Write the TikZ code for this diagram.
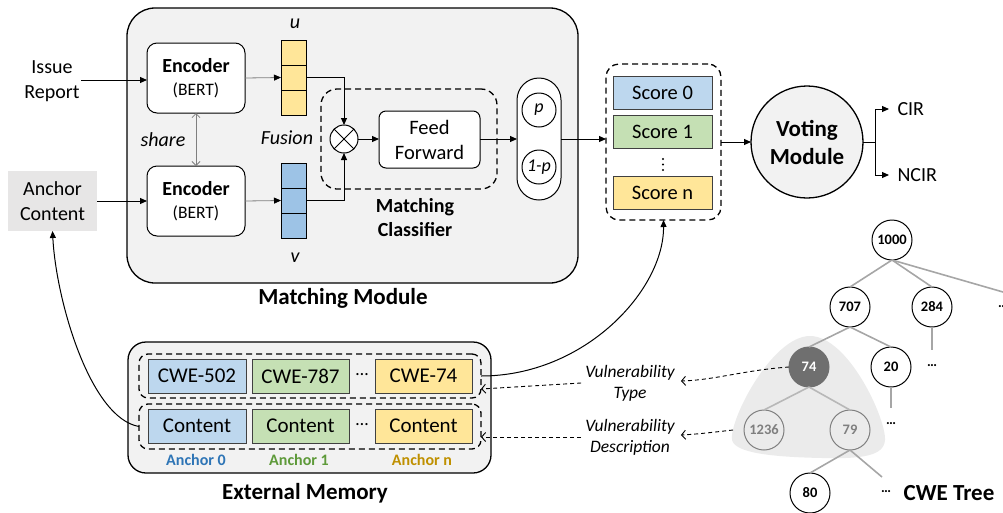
\documentclass[tikz,border=0pt]{standalone}
\usepackage{fontspec}
\setmainfont{Carlito}
\usetikzlibrary{arrows.meta,calc}
\definecolor{mgray}{HTML}{F2F2F2}
\definecolor{acgray}{HTML}{E7E6E6}
\definecolor{lblue}{HTML}{BDD7EE}
\definecolor{lgreen}{HTML}{C5E0B4}
\definecolor{lyellow}{HTML}{FFE699}
\definecolor{vblue}{HTML}{9DC3E6}
\definecolor{dkline}{HTML}{404040}
\definecolor{tgray}{HTML}{A6A6A6}
\definecolor{ttext}{HTML}{7F7F7F}
\definecolor{blobgray}{HTML}{EBEBEB}
\definecolor{n74}{HTML}{6F6F6F}
\definecolor{ablue}{HTML}{2E75B6}
\definecolor{agreen}{HTML}{5E9A3A}
\definecolor{agold}{HTML}{BF9000}
\begin{document}
\begin{tikzpicture}[x=1pt,y=-1pt,
  base/.style={inner sep=0pt, outer sep=0pt},
  t20/.style={font=\fontsize{20}{25}\selectfont, align=center},
  b20/.style={font=\bfseries\fontsize{20}{24}\selectfont, align=center},
  b23/.style={font=\bfseries\fontsize{23}{28}\selectfont, align=center},
  it/.style={font=\itshape\fontsize{17.5}{21}\selectfont, align=center},
  modbox/.style={base, draw, line width=1.3pt, fill=mgray, rounded corners=28pt},
  enc/.style={base, draw, line width=1pt, fill=white, rounded corners=10pt, minimum width=98pt, minimum height=70pt, align=center, font=\fontsize{17.5}{23}\selectfont},
  cell/.style={base, draw, line width=0.9pt, minimum width=25pt, minimum height=25pt},
  dbox/.style={base, draw, dashed, dash pattern=on 6pt off 4pt, line width=1.3pt},
  colbox/.style={base, draw=dkline, line width=1pt, minimum height=34pt, font=\fontsize{21}{25}\selectfont},
  scorebox/.style={base, draw=dkline, line width=1pt, minimum width=99pt, minimum height=33pt, font=\fontsize{20.5}{25}\selectfont},
  arr/.style={line width=1pt, -{Triangle[length=7pt,width=6pt]}},
  garr/.style={line width=0.8pt, draw=ttext, -{Triangle[length=7pt,width=6pt,color=black]}},
  darr/.style={line width=0.9pt, dashed, dash pattern=on 4pt off 3pt, -{Straight Barb[length=4pt,width=9pt]}},
  tnode/.style={base, circle, draw, line width=1pt, fill=white, minimum size=40pt, font=\bfseries\fontsize{14.5}{17}\selectfont},
  gnode/.style={base, circle, draw=ttext, line width=1pt, text=ttext, minimum size=40pt, font=\bfseries\fontsize{14.5}{17}\selectfont},
  tedge/.style={draw=tgray, line width=1.6pt},
  tdots/.style={base, font=\bfseries\fontsize{14}{17}\selectfont}
]
\useasboundingbox (0,0) rectangle (1003,512);

% ---------------- Matching module ----------------
\node[modbox, minimum width=451pt, minimum height=275pt] (mm) at (352.5,145.5) {};
\node[b23] (mmlab) at (343,298) {Matching Module};

\node[t20] (ir) at (52,81) {Issue\\Report};
\node[base, fill=acgray, minimum width=89pt, minimum height=60pt, t20] (ac) at (52.5,201) {Anchor\\Content};

\node[enc] (e1) at (196,78) {{\bfseries\fontsize{20}{23}\selectfont Encoder}\\(BERT)};
\node[enc] (e2) at (196,201) {{\bfseries\fontsize{20}{23}\selectfont Encoder}\\(BERT)};
\node[font=\itshape\fontsize{20}{24}\selectfont] (share) at (163,140) {share};
\draw[draw=ttext, line width=0.8pt, {Straight Barb[length=4pt,width=8pt]}-{Straight Barb[length=4pt,width=8pt]}] (e1.south) -- (e2.south |- e2.north);

\node[cell, fill=lyellow] (u1) at (293.5,52.5) {};
\node[cell, fill=lyellow] (u2) at (293.5,77.5) {};
\node[cell, fill=lyellow] (u3) at (293.5,102.5) {};
\node[cell, fill=vblue] (v1) at (293.5,175.5) {};
\node[cell, fill=vblue] (v2) at (293.5,200.5) {};
\node[cell, fill=vblue] (v3) at (293.5,225.5) {};
\node[font=\itshape\fontsize{20}{24}\selectfont] (ul) at (295,24) {u};
\node[font=\itshape\fontsize{20}{24}\selectfont] (vl) at (295,258) {v};
\node[font=\itshape\fontsize{20}{24}\selectfont] (fus) at (287,138) {Fusion};

\draw[arr] (ir.east |- e1.west) ++(-2,2) coordinate (irs) -- (e1.west |- irs);
\draw[arr] (ac.east) -- (e2.west);
\draw[garr] (e1.east) -- (u2.west);
\draw[garr] (e2.east) -- (v2.west);

\node[base, circle, draw, line width=1pt, fill=white, minimum size=28pt] (ot) at (344,139) {};
\draw[line width=1pt] (ot.north west) -- (ot.south east) (ot.north east) -- (ot.south west);
\draw[arr] (u2.east) -| (ot.north);
\draw[arr] (v2.east) -| (ot.south);

\node[dbox, rounded corners=16pt, minimum width=176pt, minimum height=100pt] (mc) at (409,139) {};
\node[b20] (mclab) at (415,218) {Matching\\Classifier};

\node[base, draw, line width=1pt, fill=white, rounded corners=7pt, minimum width=101pt, minimum height=57pt, t20, font=\fontsize{20.5}{25}\selectfont] (ff) at (429.5,139.5) {Feed\\Forward};
\draw[arr] (ot.east) -- (ff.west |- ot.east);

\node[base, draw, line width=1pt, fill=white, rounded corners=22pt, minimum width=44pt, minimum height=122pt] (pill) at (539,139) {};
\node[base, circle, draw, line width=1pt, minimum size=34pt, font=\itshape\fontsize{18}{21}\selectfont] (pp) at (539,110) {p};
\node[base, circle, draw, line width=1pt, minimum size=34pt, font=\itshape\fontsize{18}{21}\selectfont] (qp) at (539,167) {1-p};
\draw[arr] (ff.east |- pill.west) -- (pill.west);

% ---------------- Scores ----------------
\node[dbox, rounded corners=13pt, minimum width=115pt, minimum height=156pt] (sc) at (663.5,142) {};
\node[scorebox, fill=lblue] (s0) at (662.5,92.5) {Score 0};
\node[scorebox, fill=lgreen] (s1) at (662.5,131.5) {Score 1};
\node[scorebox, fill=lyellow] (sn) at (662.5,192.5) {Score n};
\fill (663,159) circle (1.1) (663,164.5) circle (1.1) (663,170) circle (1.1);
\draw[arr] (pill.east) -- (sc.west |- pill.east);

\node[base, circle, draw, line width=1.3pt, fill=mgray, minimum size=112pt, align=center, font=\bfseries\fontsize{23}{28}\selectfont] (vm) at (807,142) {Voting\\Module};
\draw[arr] (sc.east) -- (vm.west);
\coordinate (br) at (875,142);
\node[t20, anchor=west] (cir) at (894,109) {CIR};
\node[t20, anchor=west] (ncir) at (894,175) {NCIR};
\draw[line width=1pt] (vm.east) -- (br);
\draw[arr] (br) |- ($(cir.west)+(-5,0)$);
\draw[arr] (br) |- ($(ncir.west)+(-5,0)$);

% ---------------- External memory ----------------
\node[modbox, rounded corners=18pt, minimum width=363pt, minimum height=131pt] (em) at (309.5,407.5) {};
\node[b23] (emlab) at (305,493) {External Memory};
\node[dbox, rounded corners=9pt, minimum width=342pt, minimum height=44pt] (tr) at (310,376) {};
\node[dbox, rounded corners=9pt, minimum width=342pt, minimum height=45pt] (bro) at (310,426.5) {};
\node[colbox, fill=lblue, minimum width=98pt] (c0) at (197,376) {CWE-502};
\node[colbox, fill=lgreen, minimum width=97pt] (c1) at (300.5,376) {CWE-787};
\node[colbox, fill=lyellow, minimum width=97pt] (cn) at (423.5,376) {CWE-74};
\node[font=\fontsize{18}{20}\selectfont] (cdots) at (362,375) {…};
\node[colbox, fill=lblue, minimum width=98pt] (k0) at (197,426) {Content};
\node[colbox, fill=lgreen, minimum width=97pt] (k1) at (300.5,426) {Content};
\node[colbox, fill=lyellow, minimum width=97pt] (kn) at (423.5,426) {Content};
\node[font=\fontsize{18}{20}\selectfont] (kdots) at (362,425) {…};
\node[font=\bfseries\fontsize{16}{19}\selectfont, text=ablue] (a0) at (196,460) {Anchor 0};
\node[font=\bfseries\fontsize{16}{19}\selectfont, text=agreen] (a1) at (299,460) {Anchor 1};
\node[font=\bfseries\fontsize{16}{19}\selectfont, text=agold] (an) at (422,460) {Anchor n};

\draw[arr] (tr.east) .. controls (585,376) and (664,290) .. (sc.south);
\draw[arr] (bro.west) .. controls (90,418) and (56,300) .. (ac.south);

% ---------------- CWE tree ----------------
\fill[blobgray] (810,336) .. controls (848,336) and (886,418) .. (885,440)
  .. controls (884,456) and (862,459) .. (822,458)
  .. controls (772,457) and (735,453) .. (732,440)
  .. controls (729,420) and (772,336) .. (810,336) -- cycle;
\node[tnode] (t1000) at (892,240) {1000};
\node[tnode] (t707) at (850,307) {707};
\node[tnode] (t284) at (932,307) {284};
\node[tnode, fill=n74, draw=n74, text=white] (t74) at (809,367) {74};
\node[tnode] (t20) at (891,367) {20};
\node[gnode] (t1236) at (764,430) {1236};
\node[gnode] (t79) at (850,430) {79};
\node[tnode] (t80) at (810,493) {80};
\coordinate (xr) at (1003,292);
\coordinate (x284) at (932,350);
\coordinate (x20) at (891,408);
\coordinate (x79) at (882,477);
\draw[tedge] (t1000.south) -- (t707.north);
\draw[tedge] (t1000.south) -- (t284.north);
\draw[tedge] (t1000.south) -- (xr);
\draw[tedge] (t707.south) -- (t74.north);
\draw[tedge] (t707.south) -- (t20.north);
\draw[tedge] (t284.south) -- (x284);
\draw[tedge] (t20.south) -- (x20);
\draw[tedge, draw=tgray!80] (t74.south) -- (t1236.north);
\draw[tedge, draw=tgray!80] (t74.south) -- (t79.north);
\draw[tedge] (t79.south) -- (t80.north);
\draw[tedge] (t79.south) -- (x79);
\node[tdots] (d284) at (932,366) {…};
\node[tdots] (d20) at (891,424) {…};
\node[tdots] (d79) at (886,492) {…};
\node[tdots, anchor=west] (dr) at (998,307) {…};
\node[b23] (cwet) at (949,493) {CWE Tree};

% ---------------- Vulnerability labels ----------------
\node[it, inner sep=4pt] (vt) at (630,383) {Vulnerability\\Type};
\node[it, inner sep=4pt] (vd) at (630,437) {Vulnerability\\Description};
\coordinate (blobL) at (733,430);
\draw[darr] (t74.west) .. controls (745,370) and (715,380) .. ($(vt.east)+(2,-2)$);
\draw[darr] (blobL) .. controls (715,432) and (700,434) .. ($(vd.east)+(2,-2)$);
\draw[darr] (vt.west) -- ($(tr.east)+(0,13)$);
\draw[darr] (vd.west) -- ($(bro.east)+(0,10.5)$);
\end{tikzpicture}
\end{document}
